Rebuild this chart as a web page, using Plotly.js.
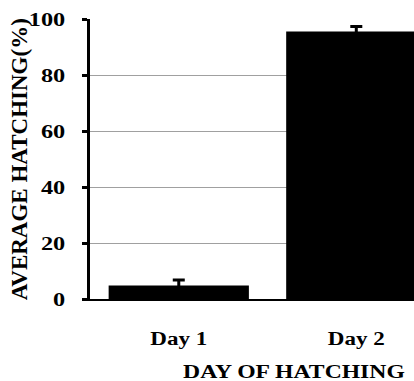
<!DOCTYPE html>
<html>
<head>
<meta charset="utf-8">
<script src="https://cdn.plot.ly/plotly-3.0.1.min.js"></script>
<style>
  html, body { margin: 0; padding: 0; background: #fff; }
  #chart { width: 414px; height: 381px; }
</style>
</head>
<body>
<div id="chart"></div>
<script>
// Average hatching by day
const days = ['Day 1', 'Day 2'];
const hatching = [4.8, 95.5];
const hatchingErr = [2.0, 1.8];
const yTicks = [0, 20, 40, 60, 80, 100];

const serif = 'Liberation Serif, Times New Roman, serif';
// horizontal labels are drawn with wide letterforms
const WIDEN = 1.28;

const trace = {
  type: 'bar',
  x: days,
  y: hatching,
  marker: { color: '#000000', line: { width: 0 } },
  error_y: {
    type: 'data',
    array: hatchingErr,
    visible: true,
    color: '#000000',
    thickness: 3,
    width: 6
  },
  hoverinfo: 'skip'
};

const layout = {
  width: 414,
  height: 381,
  margin: { l: 90, r: 0, t: 19, b: 82 },
  paper_bgcolor: '#ffffff',
  plot_bgcolor: '#ffffff',
  showlegend: false,
  bargap: 0.21,
  font: { family: serif, size: 18, color: '#000', weight: 'bold' },
  xaxis: {
    type: 'category',
    range: [-0.5, 1.325],
    showline: true,
    linecolor: '#000',
    linewidth: 2,
    ticks: '',
    showgrid: false,
    zeroline: false,
    tickfont: { family: serif, size: 18, color: '#000', weight: 'bold' },
    ticklabelstandoff: 22,
    automargin: false
  },
  yaxis: {
    range: [0, 100],
    tickvals: yTicks,
    showline: true,
    linecolor: '#000',
    linewidth: 3,
    ticks: 'outside',
    ticklen: 5,
    tickwidth: 3,
    tickcolor: '#000',
    showgrid: true,
    gridcolor: '#a0a0a0',
    gridwidth: 1,
    zeroline: false,
    tickfont: { family: serif, size: 19, color: '#000', weight: 'bold' },
    ticklabelstandoff: 13,
    automargin: false
  },
  annotations: [
    {
      text: 'AVERAGE HATCHING(%)',
      xref: 'paper', yref: 'paper',
      x: -0.218, y: 0.5,
      xanchor: 'center', yanchor: 'middle',
      textangle: -90,
      showarrow: false,
      font: { family: serif, size: 23, color: '#000', weight: 'bold' }
    },
    {
      text: 'DAY OF HATCHING',
      xref: 'paper', yref: 'paper',
      x: 0.28, y: -0.262,
      xanchor: 'left', yanchor: 'middle',
      showarrow: false,
      font: { family: serif, size: 18.5, color: '#000', weight: 'bold' }
    }
  ]
};

// stretch a text element horizontally about a fixed anchor x
function widen(el, anchor) {
  const b = el.getBBox();
  let ax = b.x;
  if (anchor === 'end') ax = b.x + b.width;
  else if (anchor === 'middle') ax = b.x + b.width / 2;
  const prev = el.getAttribute('transform') || '';
  el.setAttribute('transform',
    prev + ' translate(' + ax + ',0) scale(' + WIDEN + ',1) translate(' + (-ax) + ',0)');
}

Plotly.newPlot('chart', [trace], layout, { displayModeBar: false, staticPlot: true })
  .then(function (gd) {
    gd.querySelectorAll('.ytick text').forEach(function (t) { widen(t, 'end'); });
    gd.querySelectorAll('.xtick text').forEach(function (t) { widen(t, 'middle'); });
    const ann = gd.querySelectorAll('.annotation-text');
    if (ann.length > 1) widen(ann[1], 'start');
  });
</script>
</body>
</html>
